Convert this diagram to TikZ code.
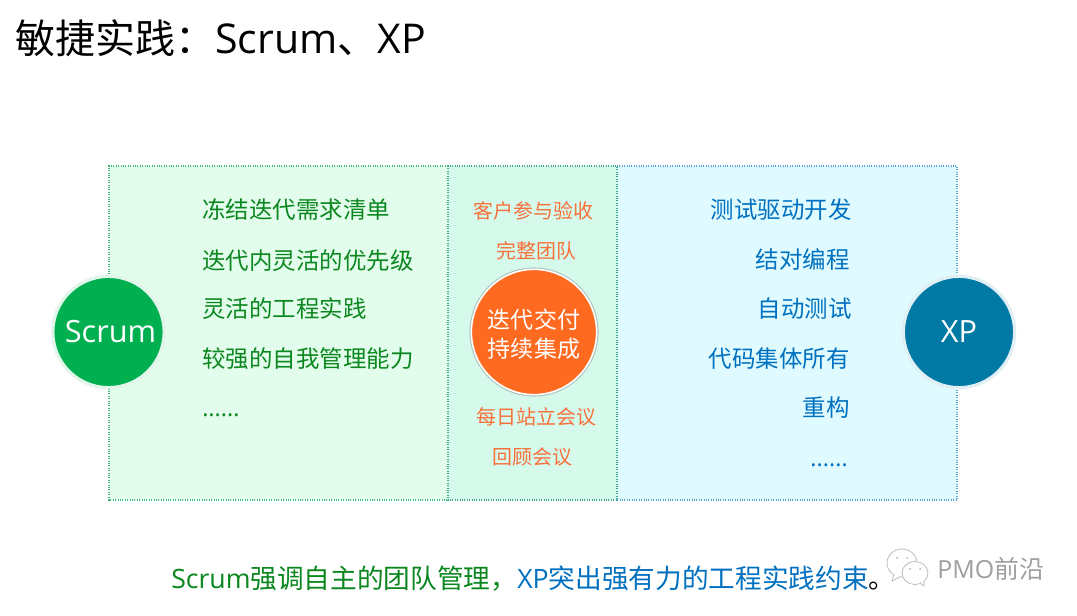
\documentclass[tikz,border=0pt]{standalone}
\usepackage{xcolor}
\usepackage{fontspec}
\usepackage{tikz}
\usetikzlibrary{positioning, shadows}
\setmainfont{Noto Sans CJK SC}
\newfontfamily\latinfont{Open Sans}
\newcommand{\lat}[1]{{\latinfont #1}}
\newcommand{\pxfont}[1]{\fontsize{#1}{#1}\selectfont}
\definecolor{layerScrum}{RGB}{227,253,236}
\definecolor{layerBoth}{RGB}{213,250,236}
\definecolor{layerXp}{RGB}{223,251,255}
\definecolor{lineScrum}{RGB}{70,185,130}
\definecolor{lineBoth}{RGB}{60,170,140}
\definecolor{lineXp}{RGB}{90,165,215}
\definecolor{circleScrum}{RGB}{0,176,80}
\definecolor{circleXp}{RGB}{0,121,165}
\definecolor{circleBoth}{RGB}{255,106,33}
\definecolor{textScrum}{RGB}{10,135,30}
\definecolor{textBoth}{RGB}{248,112,58}
\definecolor{textXp}{RGB}{0,112,192}
\tikzset{
  layerBox/.style={draw=#1, densely dotted, thick},
  scrumItem/.style={anchor=west, inner sep=0pt, text=textScrum, font=\pxfont{17.6pt}},
  xpItem/.style={anchor=east, inner sep=0pt, text=textXp, font=\pxfont{17.6pt}},
  bothItem/.style={inner sep=0pt, text=textBoth, font=\pxfont{15pt}},
  sideCircle/.style={circle, minimum size=83.5pt, inner sep=0pt, text=white, line width=2.4pt, font=\latinfont\pxfont{23pt}},
  bubbleLine/.style={draw=gray!60, line width=.5pt, fill=white}
}
\begin{document}
\begin{tikzpicture}[x=0.75pt, y=-0.75pt]
  \useasboundingbox[fill=white] (0,0) rectangle (1077,616);

  \node[anchor=west, inner sep=0pt, font=\pxfont{30pt}] (title) at (15,38) {敏捷实践：{\pxfont{30.8pt}\lat{Scrum}}、{\pxfont{30.8pt}\lat{XP}}};

  % three panels
  \fill[layerScrum] (109,166) rectangle (448,500);
  \fill[layerXp] (617,166) rectangle (957,500);
  \fill[layerBoth] (448,166) rectangle (617,500);
  \draw[layerBox=lineScrum] (448,166) -- (109,166) -- (109,500) -- (448,500);
  \draw[layerBox=lineXp] (617,166) -- (957,166) -- (957,500) -- (617,500);
  \draw[layerBox=lineBoth] (448,166) rectangle (617,500);

  \node[scrumItem] (freeze) at (202,210) {冻结迭代需求清单};
  \node[scrumItem] (priority) at (202,261) {迭代内灵活的优先级};
  \node[scrumItem] (practice) at (202,309) {灵活的工程实践};
  \node[scrumItem] (selfmgmt) at (202,359) {较强的自我管理能力};
  \node[scrumItem, font=\latinfont\pxfont{17.5pt}] (scrumMore) at (202,415) {......};

  \node[xpItem] (tdd) at (852,210) {测试驱动开发};
  \node[xpItem] (pair) at (850,260) {结对编程};
  \node[xpItem] (autotest) at (852,309) {自动测试};
  \node[xpItem] (owner) at (850,359) {代码集体所有};
  \node[xpItem] (refactor) at (850,408) {重构};
  \node[xpItem, font=\latinfont\pxfont{17.5pt}] (xpMore) at (848,465) {......};

  \node[bothItem] (customer) at (533,211) {客户参与验收};
  \node[bothItem] (team) at (536,251) {完整团队};
  \node[bothItem] (standup) at (536,417) {每日站立会议};
  \node[bothItem] (retro) at (532,457) {回顾会议};

  \node[circle, minimum size=94pt, inner sep=0pt, fill=circleBoth, draw=white, line width=1.2pt, text=white, align=center,
    font=\pxfont{17.3pt}, drop shadow={shadow xshift=0pt, shadow yshift=0pt, opacity=0.45, shadow scale=1.03}] (delivery) at (534,332) {\rule{0pt}{18pt}迭代交付\\[4pt]持续集成};

  \node[sideCircle, fill=circleScrum, draw=circleScrum!12!white] (scrum) at (108.5,332) {\hspace*{3pt}Scrum};
  \node[sideCircle, fill=circleXp, draw=circleXp!12!white] (xp) at (959,332) {XP};

  \node[anchor=west, inner sep=0pt, font=\pxfont{20pt}] (summary) at (171,579)
  {\textcolor{textScrum}{\lat{Scrum}强调自主的团队管理，}\textcolor{textXp}{\lat{XP}突出强有力的工程实践约束}。};

  % watermark
  \draw[bubbleLine] (902,563) circle (15 and 14);
  \draw[bubbleLine] (894,574) -- (892,581) -- (900,577);
  \fill[gray!60] (897,558) circle (1) (907,558) circle (1);
  \draw[bubbleLine] (915,573) circle (13 and 11.5);
  \draw[bubbleLine] (920,583) -- (924,586) -- (924,581);
  \fill[gray!60] (910,569) circle (1) (920,569) circle (1);
  \node[anchor=west, inner sep=0pt, text=gray!75, font=\pxfont{18.7pt}] (logo) at (937,569) {\lat{PMO}前沿};
\end{tikzpicture}
\end{document}
